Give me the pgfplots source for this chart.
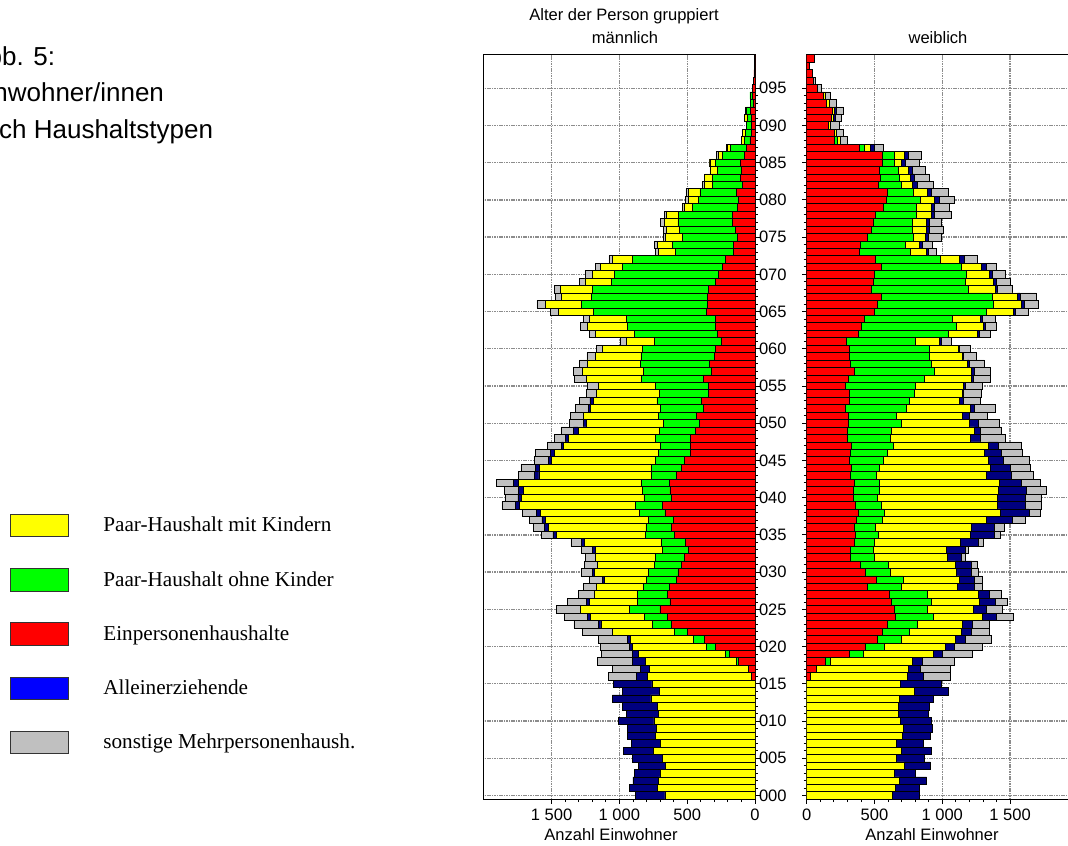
\documentclass[border=0pt]{standalone}
\usepackage{fontspec}
\setmainfont{Liberation Sans}
\newfontfamily\serifL{Liberation Serif}
\usepackage{pgfplots}
\usepackage{pgfplotstable}
\pgfplotsset{compat=1.18}

\definecolor{cyel}{RGB}{255,255,0}
\definecolor{cgrn}{RGB}{0,255,0}
\definecolor{cred}{RGB}{255,0,0}
\definecolor{cnav}{RGB}{0,0,128}
\definecolor{cblu}{RGB}{0,0,255}
\definecolor{cgry}{RGB}{192,192,192}
\definecolor{cgrid}{RGB}{140,140,140}

\pgfplotstableread{
age r g y b s
0 0 0 664 216 0
1 0 0 720 207 0
2 0 0 710 190 0
3 0 0 696 196 0
4 0 0 659 199 0
5 0 0 681 224 0
6 0 0 752 221 0
7 0 0 696 216 0
8 0 0 735 206 0
9 0 0 728 213 0
10 0 0 745 260 0
11 0 0 710 241 0
12 0 0 720 258 0
13 0 0 767 285 0
14 0 0 703 275 0
15 0 0 760 285 0
16 25 0 766 82 209
17 49 0 728 71 202
18 120 15 671 99 258
19 189 32 639 47 224
20 295 61 546 25 216
21 376 81 462 20 214
22 497 95 460 0 221
23 615 140 381 19 180
24 646 170 398 20 172
25 701 226 363 0 177
26 627 238 357 19 143
27 644 226 317 0 116
28 629 192 347 0 98
29 580 221 310 15 98
30 568 216 401 12 81
31 543 197 425 0 94
32 521 211 445 0 72
33 489 194 492 22 81
34 511 180 568 19 79
35 592 217 654 27 86
36 617 187 722 25 81
37 600 184 760 27 91
38 664 191 726 29 108
39 683 197 860 27 99
40 619 200 902 27 96
41 627 201 880 37 103
42 634 202 907 39 123
43 578 184 831 34 116
44 541 221 826 34 104
45 521 214 767 24 99
46 479 231 767 30 113
47 474 224 713 17 103
48 479 253 644 20 86
49 438 267 600 35 91
50 408 268 565 25 103
51 430 283 553 0 93
52 383 315 514 19 96
53 393 330 469 25 78
54 344 359 465 0 73
55 344 388 421 0 83
56 383 455 406 0 86
57 322 499 450 0 71
58 339 507 390 0 57
59 300 541 336 0 62
60 290 541 292 0 45
61 246 494 211 0 45
62 278 612 285 0 44
63 295 644 295 0 54
64 295 656 271 0 44
65 356 836 256 0 61
66 354 924 266 0 64
67 354 853 219 0 49
68 344 856 235 0 42
69 290 769 195 0 39
70 268 767 165 0 49
71 241 735 167 0 34
72 219 686 147 0 25
73 160 427 123 0 25
74 160 447 113 0 20
75 130 406 125 0 12
76 145 413 93 0 22
77 165 403 101 0 29
78 165 398 88 0 18
79 130 330 64 0 14
80 123 292 74 0 25
81 135 271 83 0 20
82 93 224 54 0 15
83 106 211 54 0 0
84 101 177 49 0 5
85 106 184 42 0 5
86 81 157 30 0 15
87 66 118 20 0 5
88 37 44 20 0 0
89 29 42 20 0 0
90 29 32 5 0 0
91 29 28 19 0 0
92 32 29 8 0 0
93 15 17 0 0 0
94 17 20 0 0 0
95 20 0 0 0 0
96 10 0 0 0 0
97 8 0 0 0 0
98 5 0 0 0 0
99 5 0 0 0 0
}\male

\pgfplotstableread{
age r g y b s
0 0 0 632 196 0
1 0 0 651 177 0
2 0 0 681 204 0
3 0 0 646 158 0
4 0 0 720 192 0
5 0 0 661 207 0
6 0 0 701 221 0
7 0 0 659 201 0
8 0 0 705 207 0
9 0 0 713 216 0
10 0 0 691 231 0
11 0 0 676 221 0
12 0 0 674 231 0
13 0 0 681 256 0
14 0 0 794 251 0
15 0 0 691 304 0
16 29 0 713 118 199
17 74 0 676 86 223
18 140 35 604 74 236
19 315 103 516 66 222
20 435 138 447 66 209
21 521 180 393 74 191
22 560 197 381 74 133
23 592 224 332 76 125
24 651 283 364 103 123
25 644 248 339 96 118
26 627 295 349 120 91
27 610 282 374 83 86
28 450 246 413 127 59
29 516 197 410 113 59
30 435 182 489 111 46
31 398 204 494 121 41
32 324 173 543 103 29
33 324 165 543 136 27
34 349 148 639 130 39
35 356 172 681 175 44
36 351 155 708 170 71
37 369 187 771 192 91
38 381 192 855 212 81
39 356 197 853 209 113
40 344 177 885 204 118
41 344 192 877 204 148
42 351 185 882 167 140
43 320 196 811 180 165
44 332 206 819 145 148
45 315 253 769 116 187
46 320 277 716 120 158
47 332 310 698 73 173
48 302 317 590 74 184
49 302 325 609 47 155
50 307 394 498 67 155
51 307 357 484 49 138
52 285 452 467 35 150
53 315 445 366 32 125
54 315 481 354 8 128
55 285 516 354 17 123
56 307 561 346 15 128
57 351 590 273 22 121
58 322 600 263 12 111
59 315 590 240 10 99
60 315 590 213 8 83
61 295 506 180 14 74
62 381 666 209 17 79
63 406 700 199 15 79
64 425 649 207 17 91
65 497 830 197 17 94
66 521 855 209 18 103
67 553 814 186 20 123
68 479 716 194 17 111
69 492 680 202 25 100
70 499 678 172 23 95
71 548 592 150 32 77
72 506 482 135 37 96
73 388 379 118 15 59
74 398 327 103 25 74
75 445 342 86 24 94
76 479 300 106 20 103
77 492 290 103 20 86
78 506 305 111 19 126
79 565 246 111 19 111
80 585 256 100 35 110
81 592 195 103 32 123
82 528 173 78 39 116
83 543 140 79 32 111
84 536 140 74 29 94
85 558 88 55 24 103
86 558 88 74 30 98
87 388 35 49 25 71
88 204 25 19 0 54
89 204 0 15 0 51
90 160 0 17 0 64
91 179 0 15 20 42
92 189 0 15 15 54
93 147 0 18 0 51
94 123 0 17 0 35
95 76 0 5 0 24
96 49 0 0 0 17
97 42 0 0 0 0
98 20 0 0 0 0
99 54 0 0 0 0
}\female

\pgfplotsset{
  pyr/.style={
    scale only axis, width=203.4pt, height=558.375pt,
    xmin=0, xmax=2000, ymin=-0.5, ymax=99.5,
    xbar stacked, bar width=1, bar shift=0pt,
    xtick={0,500,1000,1500}, minor x tick num=4,
    ytick={0,5,...,95}, minor y tick num=4,
    xtick pos=left,
    grid=major,
    major grid style={cgrid, line width=1pt, dash pattern=on 1.2pt off 0.6pt},
    tick align=outside, major tick length=3.5pt, minor tick length=2.2pt,
    every tick/.style={black, line width=0.6pt},
    axis line style={black, line width=0.8pt},
    tick label style={font=\fontsize{12.4}{14}\selectfont},
  },
  rbar/.style={fill=cred, draw=black, line width=0.4pt},
  gbar/.style={fill=cgrn, draw=black, line width=0.4pt},
  ybarr/.style={fill=cyel, draw=black, line width=0.4pt},
  bbar/.style={fill=cnav, draw=black, line width=0.4pt},
  sbar/.style={fill=cgry, draw=black, line width=0.4pt},
}

\begin{document}
\begin{tikzpicture}
\useasboundingbox (0,0) rectangle (801pt,634.5pt);

% left text (cropped as in the reference)
\node[anchor=base west, font=\fontsize{19.5}{23}\selectfont, inner sep=0pt] at (-22.5pt,585.2pt) {Abb. 5:};
\node[anchor=base west, font=\fontsize{19.5}{23}\selectfont, inner sep=0pt] at (-22.5pt,558pt) {Einwohner/innen};
\node[anchor=base west, font=\fontsize{19.5}{23}\selectfont, inner sep=0pt] at (-22.5pt,530.25pt) {nach Haushaltstypen};

% male panel
\begin{axis}[pyr, at={(566.25pt,35.1pt)}, anchor=south east, x dir=reverse,
  xticklabels={0,500,1 000,1 500},
  ytick pos=right, yticklabel pos=right,
  yticklabels={000,005,010,015,020,025,030,035,040,045,050,055,060,065,070,075,080,085,090,095},
  yticklabel style={anchor=west, xshift=-4pt},
]
\addplot[rbar] table[x=r,y=age]{\male};
\addplot[gbar] table[x=g,y=age]{\male};
\addplot[ybarr] table[x=y,y=age]{\male};
\addplot[bbar] table[x=b,y=age]{\male};
\addplot[sbar] table[x=s,y=age]{\male};
\draw[black, line width=1.6pt] (axis cs:0,-0.5) -- (axis cs:0,99.5);
\end{axis}

% female panel
\begin{axis}[pyr, at={(605pt,35.1pt)}, anchor=south west,
  xticklabels={0,500,1 000,1 500},
  ytick pos=left,
  yticklabels={},
]
\addplot[rbar] table[x=r,y=age]{\female};
\addplot[gbar] table[x=g,y=age]{\female};
\addplot[ybarr] table[x=y,y=age]{\female};
\addplot[bbar] table[x=b,y=age]{\female};
\addplot[sbar] table[x=s,y=age]{\female};
\draw[black, line width=1.6pt] (axis cs:0,-0.5) -- (axis cs:0,99.5);
\end{axis}

% legend
\begin{axis}[at={(7pt,249.4pt)}, anchor=north west, scale only axis,
  width=150pt, height=150pt, hide axis, xmin=0, xmax=1, ymin=0, ymax=1,
  legend style={at={(0,1)}, anchor=north west, draw=none, fill=none,
    inner sep=0pt, row sep=23pt, column sep=24pt,
    font=\serifL\fontsize{15.9}{17}\selectfont},
  legend cell align=left]
\addlegendimage{legend image code/.code={\draw[fill=cyel,draw=black!80,line width=0.8pt] (0pt,-8.45pt) rectangle (43.5pt,8.45pt);}}
\addlegendentry{Paar-Haushalt mit Kindern}
\addlegendimage{legend image code/.code={\draw[fill=cgrn,draw=black!80,line width=0.8pt] (0pt,-8.45pt) rectangle (43.5pt,8.45pt);}}
\addlegendentry{Paar-Haushalt ohne Kinder}
\addlegendimage{legend image code/.code={\draw[fill=cred,draw=black!80,line width=0.8pt] (0pt,-8.45pt) rectangle (43.5pt,8.45pt);}}
\addlegendentry{Einpersonenhaushalte}
\addlegendimage{legend image code/.code={\draw[fill=cblu,draw=black!80,line width=0.8pt] (0pt,-8.45pt) rectangle (43.5pt,8.45pt);}}
\addlegendentry{Alleinerziehende}
\addlegendimage{legend image code/.code={\draw[fill=cgry,draw=black!80,line width=0.8pt] (0pt,-8.45pt) rectangle (43.5pt,8.45pt);}}
\addlegendentry{sonstige Mehrpersonenhaush.}
\end{axis}

% titles and axis labels
\node[font=\fontsize{12.4}{14}\selectfont] at (468pt,622.5pt) {Alter der Person gruppiert};
\node[font=\fontsize{12.4}{14}\selectfont] at (468.75pt,606pt) {männlich};
\node[font=\fontsize{12.4}{14}\selectfont] at (703.5pt,606pt) {weiblich};
\node[font=\fontsize{12.4}{14}\selectfont] at (458.25pt,8.25pt) {Anzahl Einwohner};
\node[font=\fontsize{12.4}{14}\selectfont] at (699pt,8.25pt) {Anzahl Einwohner};
\end{tikzpicture}
\end{document}
